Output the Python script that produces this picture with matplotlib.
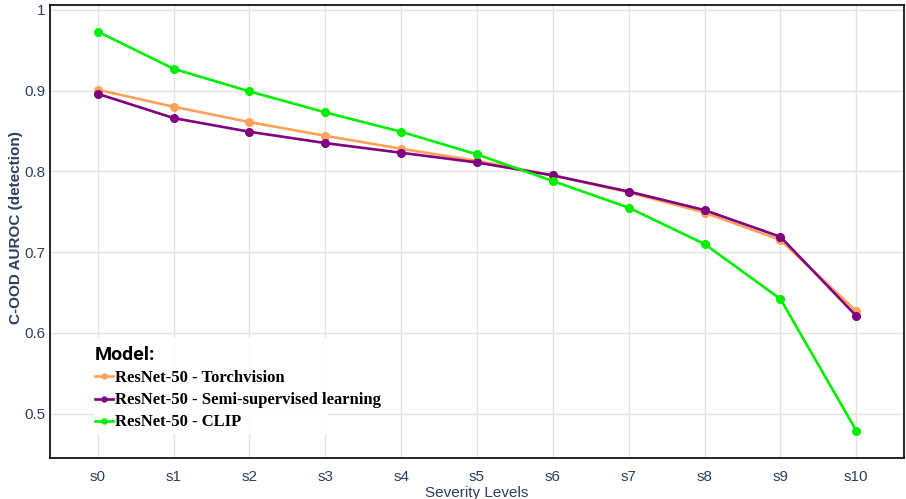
import matplotlib
matplotlib.use("Agg")
import matplotlib.pyplot as plt
from matplotlib.patches import Rectangle

categories = ["s0", "s1", "s2", "s3", "s4", "s5", "s6", "s7", "s8", "s9", "s10"]
torchvision = [0.901, 0.880, 0.861, 0.844, 0.828, 0.813, 0.795, 0.774, 0.749, 0.715, 0.627]
semi_supervised = [0.896, 0.866, 0.849, 0.835, 0.823, 0.811, 0.795, 0.775, 0.752, 0.719, 0.621]
clip = [0.973, 0.927, 0.899, 0.873, 0.849, 0.821, 0.788, 0.755, 0.710, 0.642, 0.479]
series_names = ["ResNet-50 - Torchvision", "ResNet-50 - Semi-supervised learning", "ResNet-50 - CLIP"]
colors = ["#FFA15A", "#800080", "#00EE00"]
yticks = [0.5, 0.6, 0.7, 0.8, 0.9, 1.0]
ytick_labels = ["0.5", "0.6", "0.7", "0.8", "0.9", "1"]

W, H = 906, 499
L, R, T, B = 50, 904, 5, 458
fig = plt.figure(figsize=(W/100, H/100), dpi=100)
ax = fig.add_axes([L/W, 1-B/H, (R-L)/W, (B-T)/H])

def ax_x(px):
    return (px - L) / (R - L)

def ax_y(py):
    return (B - py) / (B - T)

x = list(range(len(categories)))
for vals, name, c in zip([torchvision, semi_supervised, clip], series_names, colors):
    ax.plot(x, vals, color=c, lw=1.9, marker="o", markersize=5.5, label=name, zorder=3)

ax.set_xlim(-0.63, 10.63)
ax.set_ylim(0.445, 1.006)
ax.set_xticks(x)
ax.set_xticklabels(categories)
ax.set_yticks(yticks)
ax.set_yticklabels(ytick_labels)
tc = "#2a3f5f"
for lab in ax.get_xticklabels() + ax.get_yticklabels():
    lab.set_fontfamily("Liberation Sans")
    lab.set_fontsize(11)
    lab.set_color(tc)
ax.tick_params(axis="x", length=0, pad=8.5)
ax.tick_params(axis="y", length=0, pad=3)
ax.grid(True, color="#e3e3e3", lw=1)
ax.set_axisbelow(True)
for s in ax.spines.values():
    s.set_color("black")
    s.set_linewidth(1.2)

ax.set_ylabel("C-OOD AUROC (detection)", fontfamily="Liberation Sans", fontsize=11,
              fontweight="bold", color=tc)
ax.yaxis.set_label_coords(ax_x(16), ax_y(228))
ax.yaxis.label.set_va("center")
ax.set_xlabel("Severity Levels", fontfamily="Liberation Sans", fontsize=11, color=tc)
ax.xaxis.set_label_coords(ax_x(477), ax_y(486))
ax.xaxis.label.set_va("top")

# legend background box
ax.add_patch(Rectangle((ax_x(93), ax_y(434)), ax_x(328) - ax_x(93), ax_y(338) - ax_y(434),
                       transform=ax.transAxes, facecolor="white", edgecolor="none",
                       alpha=0.9, zorder=2))

leg = ax.legend(loc="upper left", bbox_to_anchor=(ax_x(95), ax_y(346)),
                frameon=False,
                handlelength=1.05, handletextpad=0.15, labelspacing=0.37, borderpad=0.0,
                borderaxespad=0,
                prop={"family": "Liberation Serif", "weight": "bold", "size": 12},
                title="Model:", title_fontproperties={"family": "Roboto", "weight": "bold", "size": 14},
                alignment="left", markerscale=0.65)
leg.set_zorder(5)

fig.savefig("out.png", dpi=100)
